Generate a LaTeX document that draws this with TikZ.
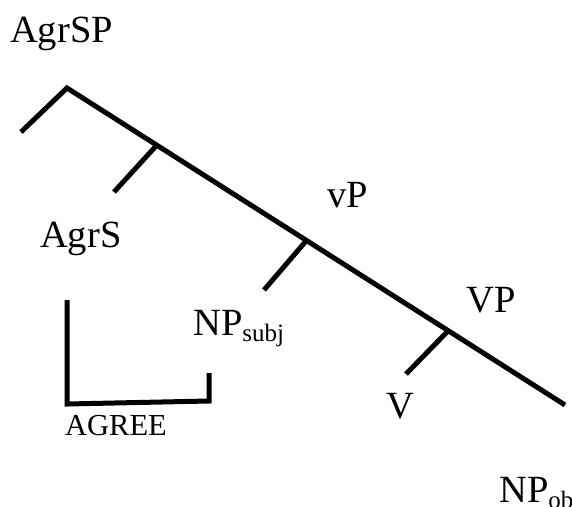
\documentclass[tikz,border=0pt]{standalone}
\usepackage{fontspec}
\setmainfont{Liberation Serif}
\begin{document}
\begin{tikzpicture}[x=1pt,y=-1pt,
  lbl/.style={inner sep=0pt,anchor=base west,font=\fontsize{38.5}{41}\selectfont},
  small/.style={inner sep=0pt,anchor=base west,font=\fontsize{30.5}{32}\selectfont},
  subs/.style={font=\fontsize{25}{27}\selectfont},
  branch/.style={line width=5pt,line cap=butt},
  brk/.style={line width=5pt,line join=miter}]
\useasboundingbox (0,0) rectangle (572,506);
% tree points
\coordinate (apex) at (67,88);
\coordinate (left) at (21,132);
\coordinate (j1) at (156,146);
\coordinate (e1) at (114,192);
\coordinate (j2) at (306,241);
\coordinate (e2) at (264,290);
\coordinate (j3) at (448,331);
\coordinate (e3) at (406,374);
\coordinate (end) at (565,405);
\draw[branch] (left) -- (apex) -- (end);
\draw[branch] (j1) -- (e1);
\draw[branch] (j2) -- (e2);
\draw[branch] (j3) -- (e3);
% bracket
\coordinate (b1) at (67,300);
\coordinate (b2) at (67,404);
\coordinate (b3) at (209,401);
\coordinate (b4) at (209,373);
\draw[brk] (b1) -- (b2) -- (b3) -- (b4);
% labels
\node[lbl] (agrsp) at (10,42) {AgrSP};
\node[lbl] (agrs) at (40,247) {AgrS};
\node[lbl] (vp) at (327,207) {vP};
\node[lbl] (npsubj) at (193,335) {NP\raisebox{-6pt}{\fontsize{25}{27}\selectfont subj}};
\node[lbl] (VP) at (466,312) {VP};
\node[lbl] (v) at (386,418) {V};
\node[small] (agree) at (65,435) {AGREE};
\node[lbl] (npob) at (499,502) {NP\raisebox{-6pt}{\fontsize{25}{27}\selectfont ob}};
\end{tikzpicture}
\end{document}
